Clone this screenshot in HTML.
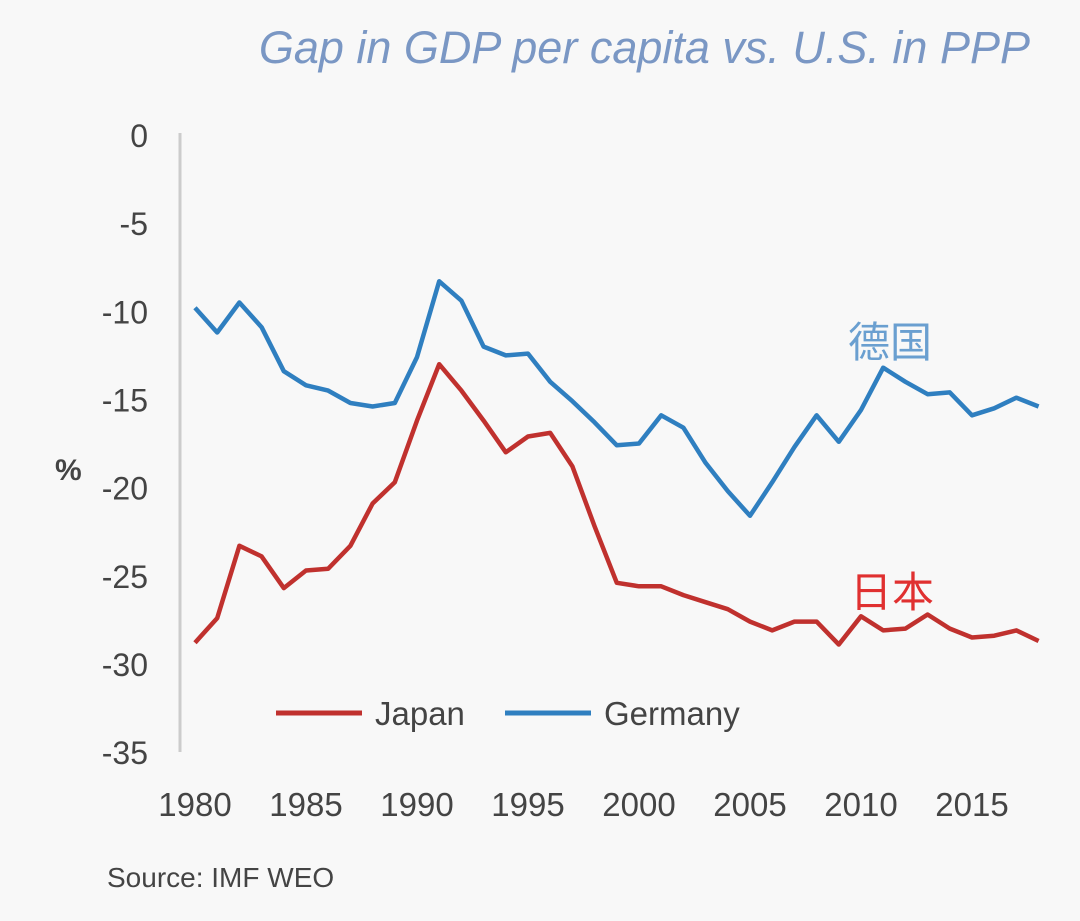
<!DOCTYPE html>
<html><head><meta charset="utf-8"><style>
html,body{margin:0;padding:0;background:#f8f8f8;}
svg{display:block;font-family:"Liberation Sans","Noto Sans CJK SC",sans-serif;}
</style></head><body>
<svg id="chart" width="1080" height="921" viewBox="0 0 1080 921">
<rect width="1080" height="921" fill="#f8f8f8"/>
<text x="1030" y="63" text-anchor="end" font-size="45" font-style="italic" fill="#7a97c4">Gap in GDP per capita vs. U.S. in PPP</text>
<line x1="180" y1="133" x2="180" y2="752" stroke="#ccc" stroke-width="3"/>
<text x="55" y="480" font-size="30" font-weight="bold" fill="#444">%</text>
<text x="107" y="887" font-size="28" fill="#444">Source: IMF WEO</text>
<text x="848" y="357" font-size="42" fill="#6a9fd0">德国</text>
<text x="850" y="607" font-size="42" fill="#e03030">日本</text>
<g id="yticks"></g><g id="xticks"></g><g id="lines"></g>
<line x1="276" y1="713" x2="362" y2="713" stroke="#c0312e" stroke-width="5"/>
<text x="375" y="725" font-size="33" fill="#444">Japan</text>
<line x1="505" y1="713" x2="591" y2="713" stroke="#2f7fc0" stroke-width="5"/>
<text x="604" y="725" font-size="33" fill="#444">Germany</text>
</svg>
<script>
const years=[];for(let y=1980;y<=2018;y++)years.push(y);
const japan=[-28.8,-27.4,-23.3,-23.9,-25.7,-24.7,-24.6,-23.3,-20.9,-19.7,-16.2,-13.0,-14.5,-16.2,-18.0,-17.1,-16.9,-18.8,-22.2,-25.4,-25.6,-25.6,-26.1,-26.5,-26.9,-27.6,-28.1,-27.6,-27.6,-28.9,-27.3,-28.1,-28.0,-27.2,-28.0,-28.5,-28.4,-28.1,-28.7];
const germany=[-9.8,-11.2,-9.5,-10.9,-13.4,-14.2,-14.5,-15.2,-15.4,-15.2,-12.6,-8.3,-9.4,-12.0,-12.5,-12.4,-14.0,-15.1,-16.3,-17.6,-17.5,-15.9,-16.6,-18.6,-20.2,-21.6,-19.7,-17.7,-15.9,-17.4,-15.6,-13.2,-14.0,-14.7,-14.6,-15.9,-15.5,-14.9,-15.4];
const yTicks=[0,-5,-10,-15,-20,-25,-30,-35];
const xTicks=[1980,1985,1990,1995,2000,2005,2010,2015];
const NS="http://www.w3.org/2000/svg";
function xs(y){return 195+(y-1980)*22.2;}
function ys(v){return 135-v*17.63;}
function mk(tag,attrs,parent){const e=document.createElementNS(NS,tag);for(const k in attrs)e.setAttribute(k,attrs[k]);document.getElementById(parent).appendChild(e);return e;}
yTicks.forEach(v=>{const t=mk('text',{x:148,y:ys(v)+12,'text-anchor':'end','font-size':32,fill:'#444'},'yticks');t.textContent=String(v);

});
xTicks.forEach(v=>{const t=mk('text',{x:xs(v),y:816,'text-anchor':'middle','font-size':33,fill:'#444'},'xticks');t.textContent=String(v);

});
function line(data,color,name){const d=data.map((v,i)=>(i?'L':'M')+xs(years[i]).toFixed(1)+','+ys(v).toFixed(1)).join('');
const p=mk('path',{d:d,fill:'none',stroke:color,'stroke-width':4.5,'stroke-linejoin':'round'},'lines');

}
line(germany,'#2f7fc0','germany-line');
line(japan,'#c0312e','japan-line');
</script>
</body></html>
